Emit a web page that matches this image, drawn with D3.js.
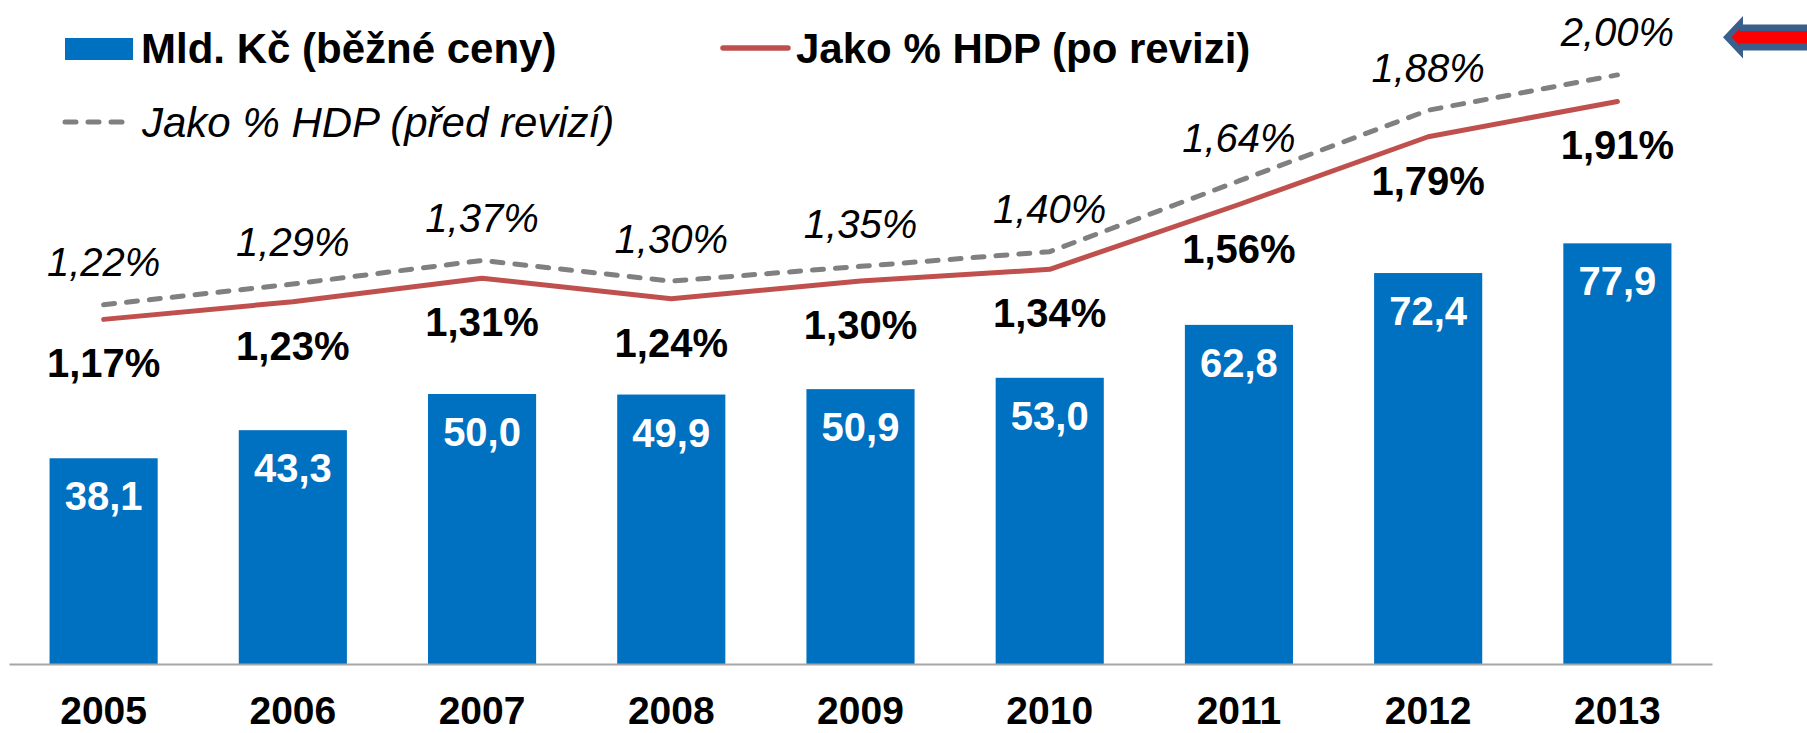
<!DOCTYPE html>
<html>
<head>
<meta charset="utf-8">
<script src="https://cdn.jsdelivr.net/npm/d3@7"></script>
<style>
  html, body { margin: 0; padding: 0; background: #ffffff; }
  svg { display: block; }
  text { font-family: "Liberation Sans", Arial, Helvetica, sans-serif; }
</style>
</head>
<body>
<svg id="chart" width="1807" height="733"></svg>
<script>
// ---- data ----
const years = ["2005", "2006", "2007", "2008", "2009", "2010", "2011", "2012", "2013"];
const mldKc = [38.1, 43.3, 50.0, 49.9, 50.9, 53.0, 62.8, 72.4, 77.9];           // Mld. Kč (běžné ceny)
const pctPoRevizi = [1.17, 1.23, 1.31, 1.24, 1.30, 1.34, 1.56, 1.79, 1.91];     // Jako % HDP (po revizi)
const pctPredRevizi = [1.22, 1.29, 1.37, 1.30, 1.35, 1.40, 1.64, 1.88, 2.00];   // Jako % HDP (před revizí)
const legendLabels = ["Mld. Kč (běžné ceny)", "Jako % HDP (po revizi)", "Jako % HDP (před revizí)"];

const fmt1 = v => d3.format(".1f")(v).replace(".", ",");
const fmtPct = v => d3.format(".2f")(v).replace(".", ",") + "%";

const svg = d3.select("#chart");
const BLUE = "#0070C0", RED = "#C0504D", GREY = "#808080";

const x = d3.scaleBand().domain(years).range([9, 1712])
  .paddingInner(0.4286).paddingOuter(0.2143);
const yBar = d3.scaleLinear().domain([0, 120]).range([664, 16]);
const yPct = d3.scaleLinear().domain([0, 2.2]).range([664, 16]);
const cx = d => x(d) + x.bandwidth() / 2;

// bars
svg.append("g").selectAll("rect").data(years).join("rect")
  .attr("x", d => x(d))
  .attr("y", (d, i) => yBar(mldKc[i]))
  .attr("width", x.bandwidth())
  .attr("height", (d, i) => yBar(0) - yBar(mldKc[i]))
  .attr("fill", BLUE);

// baseline axis
const xAxis = d3.axisBottom(x).tickSize(0).tickPadding(0).tickFormat("");
const ax = svg.append("g").attr("transform", "translate(0,664)").call(xAxis);
ax.select(".domain").attr("stroke", "#A6A6A6").attr("stroke-width", 2.2);

// year labels
svg.append("g").selectAll("text").data(years).join("text")
  .attr("x", d => cx(d)).attr("y", 724)
  .attr("text-anchor", "middle")
  .attr("font-size", 39).attr("font-weight", "bold").attr("fill", "#000")
  .text(d => d);

// bar value labels
svg.append("g").selectAll("text").data(years).join("text")
  .attr("x", d => cx(d))
  .attr("y", (d, i) => yBar(mldKc[i]) + 52)
  .attr("text-anchor", "middle")
  .attr("font-size", 40).attr("font-weight", "bold").attr("fill", "#fff")
  .text((d, i) => fmt1(mldKc[i]));

// lines
const lineGen = arr => d3.line().x((d, i) => cx(years[i])).y(d => yPct(d))(arr);

svg.append("path").attr("d", lineGen(pctPredRevizi))
  .attr("fill", "none").attr("stroke", GREY).attr("stroke-width", 5)
  .attr("stroke-dasharray", "11,12").attr("stroke-linecap", "round")
  .attr("stroke-linejoin", "round");

svg.append("path").attr("d", lineGen(pctPoRevizi))
  .attr("fill", "none").attr("stroke", RED).attr("stroke-width", 5)
  .attr("stroke-linecap", "round").attr("stroke-linejoin", "round");

// line labels
svg.append("g").selectAll("text").data(pctPredRevizi).join("text")
  .attr("x", (d, i) => cx(years[i]))
  .attr("y", d => yPct(d) - 28.5)
  .attr("text-anchor", "middle")
  .attr("font-size", 40).attr("font-style", "italic").attr("fill", "#000")
  .text(d => fmtPct(d));

svg.append("g").selectAll("text").data(pctPoRevizi).join("text")
  .attr("x", (d, i) => cx(years[i]))
  .attr("y", d => yPct(d) + 58)
  .attr("text-anchor", "middle")
  .attr("font-size", 40).attr("font-weight", "bold").attr("fill", "#000")
  .text(d => fmtPct(d));

// legend
const lg = svg.append("g");
lg.append("rect").attr("x", 65).attr("y", 38).attr("width", 68).attr("height", 22).attr("fill", BLUE);
lg.append("text").attr("x", 141).attr("y", 63).attr("font-size", 42).attr("font-weight", "bold")
  .text(legendLabels[0]);
lg.append("line").attr("x1", 723).attr("x2", 788).attr("y1", 48).attr("y2", 48)
  .attr("stroke", RED).attr("stroke-width", 5.5).attr("stroke-linecap", "round");
lg.append("text").attr("x", 796).attr("y", 63).attr("font-size", 42).attr("font-weight", "bold")
  .text(legendLabels[1]);
lg.append("line").attr("x1", 65).attr("x2", 123).attr("y1", 122).attr("y2", 122)
  .attr("stroke", GREY).attr("stroke-width", 5).attr("stroke-dasharray", "11,12")
  .attr("stroke-linecap", "round");
lg.append("text").attr("x", 142).attr("y", 137).attr("font-size", 42).attr("font-style", "italic")
  .text(legendLabels[2]);

// arrow (top right)
const outer = [[1723, 37.3], [1743, 16], [1743, 24.5], [1810, 24.5], [1810, 50.5], [1743, 50.5], [1743, 58.5]];
const inner = [[1731.5, 37.3], [1740, 28.5], [1740, 31], [1810, 31], [1810, 43.5], [1740, 43.5], [1740, 46]];
svg.append("path").attr("d", d3.line()(outer) + "Z").attr("fill", "#3A5F8D");
svg.append("path").attr("d", d3.line()(inner) + "Z").attr("fill", "#FF0000");
</script>
</body>
</html>
